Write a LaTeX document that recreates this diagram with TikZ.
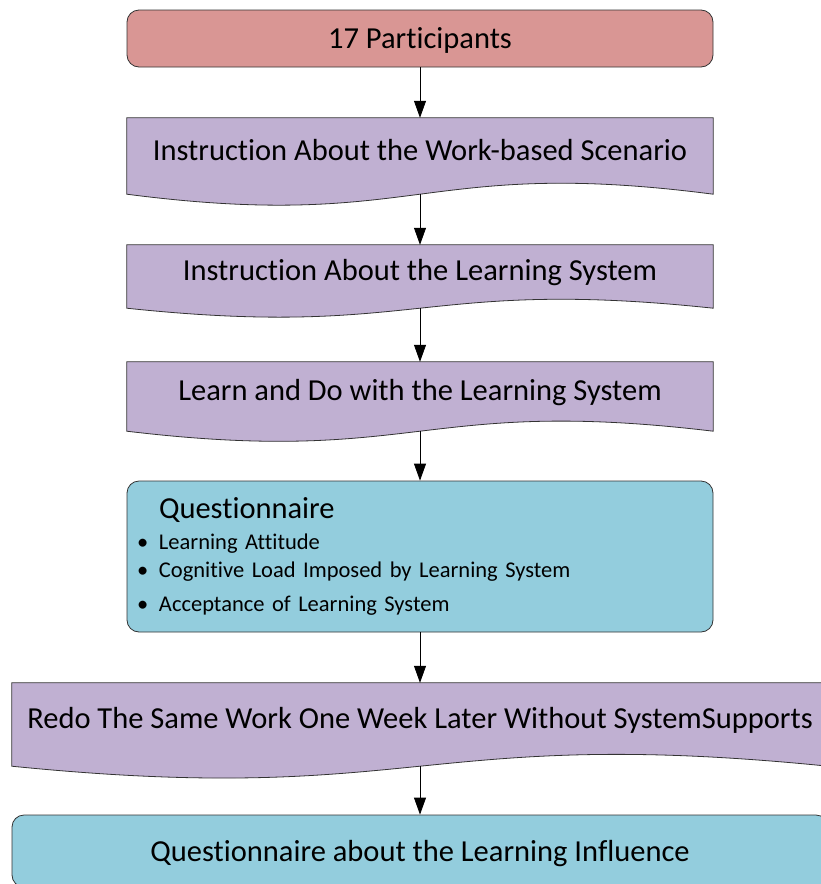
\documentclass[tikz,border=0pt]{standalone}
\usepackage{fontspec}
\setmainfont[Ligatures=NoCommon]{Carlito}
\usetikzlibrary{arrows.meta,backgrounds}

\definecolor{startred}{RGB}{217,150,148}
\definecolor{steppurple}{RGB}{192,176,210}
\definecolor{surveyaqua}{RGB}{147,205,221}

\tikzset{
  flowarrow/.style={-{Triangle[length=17pt,width=12pt]}, line width=0.8pt},
  outline/.style={draw=black!80, line width=0.8pt},
  roundbox/.style={outline, rounded corners=12pt, inner sep=0pt,
    font=\fontsize{30.5}{36}\selectfont, text height=20pt, text depth=0pt},
  docbox/.style={inner sep=0pt, font=\fontsize{30.5}{36}\selectfont,
    text height=20pt, text depth=12pt}
}

% document shape: straight top and sides, S-shaped bottom
\newcommand{\docshape}[2]{%
  \filldraw[outline, fill=steppurple]
    (#1.south west) -- (#1.north west) -- (#1.north east) -- (#1.south east)
    .. controls ([yshift=#2]#1.south) and ([yshift=-#2]#1.south) .. (#1.south west)
    -- cycle;}

\begin{document}
\begin{tikzpicture}[x=1pt, y=1pt]

\useasboundingbox (0,0) rectangle (821,-884);

% --- Boxes ---
\node[roundbox, fill=startred, minimum width=586pt, minimum height=57pt]
  (start) at (420,-38.5) {17 Participants};

\node[docbox, minimum width=586pt, minimum height=76pt]
  (scenario) at (420,-156) {Instruction About the Work-based Scenario};

\node[docbox, minimum width=586pt, minimum height=63pt]
  (sysinfo) at (420,-276.5) {Instruction About the Learning System};

\node[docbox, minimum width=586pt, minimum height=69pt]
  (learndo) at (420,-396.5) {Learn and Do with the Learning System};

\node[outline, rounded corners=12pt, fill=surveyaqua, inner sep=0pt,
      minimum width=586pt, minimum height=151pt, text width=566pt, align=left,
      font=\fontsize{22.5}{28}\selectfont]
  (survey) at (420,-556.5) {%
    \hspace*{22pt}{\fontsize{30.5}{36}\selectfont Questionnaire}\\[3pt]
    \makebox[22pt][l]{\textbullet}Learning Attitude\\
    \makebox[22pt][l]{\textbullet}Cognitive Load Imposed by Learning System\\[6pt]
    \makebox[22pt][l]{\textbullet}Acceptance of Learning System};

\node[docbox, minimum width=816pt, minimum height=83pt]
  (redo) at (420,-724.5) {Redo The Same Work One Week Later Without SystemSupports};

\node[roundbox, fill=surveyaqua, minimum width=816pt, minimum height=72pt]
  (influence) at (420,-851) {Questionnaire about the Learning Influence};

% --- Document outlines behind the texts ---
\begin{scope}[on background layer]
  \docshape{scenario}{38pt}
  \docshape{sysinfo}{31pt}
  \docshape{learndo}{35pt}
  \docshape{redo}{41pt}
\end{scope}

% --- Arrows ---
\draw[flowarrow] (start.south) -- (scenario.north);
\draw[flowarrow] (scenario.south) -- (sysinfo.north);
\draw[flowarrow] (sysinfo.south) -- (learndo.north);
\draw[flowarrow] (learndo.south) -- (survey.north);
\draw[flowarrow] (survey.south) -- (redo.north);
\draw[flowarrow] (redo.south) -- (influence.north);

\end{tikzpicture}
\end{document}
